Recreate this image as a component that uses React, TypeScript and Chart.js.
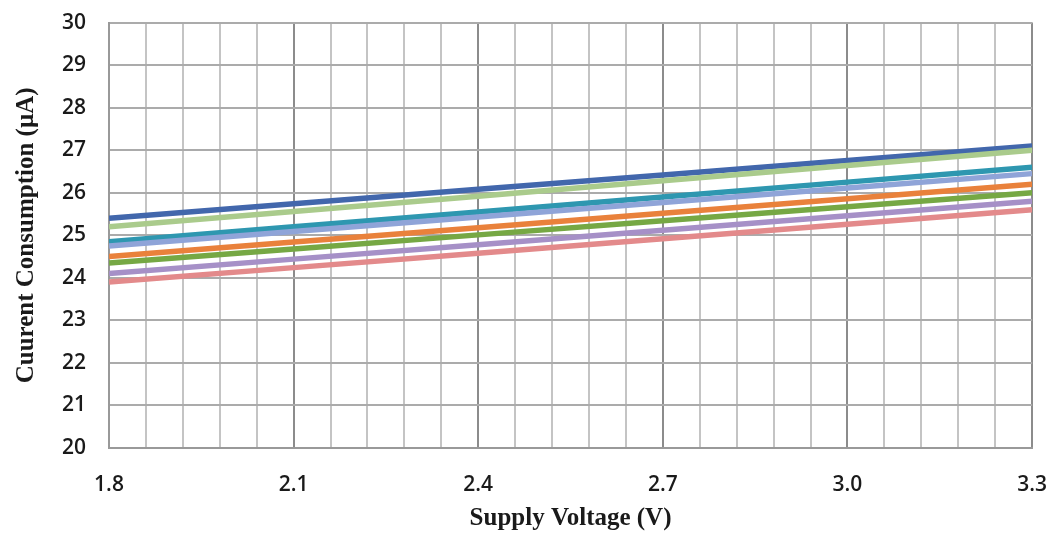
import React, { useEffect, useRef } from "react";
import { Chart, registerables } from "chart.js";

Chart.register(...registerables);

const voltages = [1.8, 2.1, 2.4, 2.7, 3.0, 3.3];
const seriesBlue = [25.4, 25.74, 26.08, 26.42, 26.76, 27.1];
const seriesLightGreen = [25.2, 25.56, 25.92, 26.28, 26.64, 27.0];
const seriesTeal = [24.85, 25.2, 25.55, 25.9, 26.25, 26.6];
const seriesPeriwinkle = [24.75, 25.09, 25.43, 25.77, 26.11, 26.45];
const seriesOrange = [24.5, 24.84, 25.18, 25.52, 25.86, 26.2];
const seriesGreen = [24.35, 24.68, 25.01, 25.34, 25.67, 26.0];
const seriesPurple = [24.1, 24.44, 24.78, 25.12, 25.46, 25.8];
const seriesPink = [23.9, 24.24, 24.58, 24.92, 25.26, 25.6];
const xTickLabels = ["1.8", "2.1", "2.4", "2.7", "3.0", "3.3"];
const yTicks = [20, 21, 22, 23, 24, 25, 26, 27, 28, 29, 30];

const seriesList = [
  { values: seriesPink, color: "#E38A8B" },
  { values: seriesPurple, color: "#A690C7" },
  { values: seriesGreen, color: "#76A844" },
  { values: seriesOrange, color: "#E9813B" },
  { values: seriesPeriwinkle, color: "#8FA4D8" },
  { values: seriesTeal, color: "#2E97B0" },
  { values: seriesLightGreen, color: "#AACB8C" },
  { values: seriesBlue, color: "#4267AC" },
];

const CW = 1071;
const CH = 547;

export default function App() {
  const ref = useRef<HTMLCanvasElement>(null);
  useEffect(() => {
    if (!ref.current) return;
    const minorStep = 0.06;
    const nMinor = Math.round((3.3 - 1.8) / minorStep);
    const chart = new Chart(ref.current, {
      type: "line",
      data: {
        datasets: seriesList.map((s, i) => ({
          label: "s" + i,
          data: voltages.map((v, k) => ({ x: v, y: s.values[k] })),
          borderColor: s.color,
          backgroundColor: s.color,
          borderWidth: 5.5,
          pointRadius: 0,
          tension: 0,
        })),
      },
      options: {
        animation: false,
        responsive: false,
        maintainAspectRatio: false,
        layout: { padding: { top: 0, right: 0, left: 0, bottom: 0 } },
        plugins: { legend: { display: false }, tooltip: { enabled: false } },
        scales: {
          x: {
            type: "linear",
            min: 1.8,
            max: 3.3,
            afterBuildTicks: (scale: any) => {
              const t = [];
              for (let i = 0; i <= nMinor; i++) t.push({ value: 1.8 + i * minorStep });
              scale.ticks = t;
            },
            afterFit: (scale: any) => {
              scale.height = 86;
            },
            border: { color: "#999999", width: 2 },
            grid: {
              drawTicks: false,
              lineWidth: 2,
              color: (ctx: any) => (ctx.index % 5 === 0 ? "#8c8c8c" : "#c4c4c4"),
            },
            ticks: {
              padding: 24,
              autoSkip: false,
              maxRotation: 0,
              color: "#1a1a1a",
              font: { family: "Open Sans", size: 21, weight: 600 },
              callback: (_v: any, i: number) => (i % 5 === 0 ? xTickLabels[i / 5] : ""),
            },
            title: {
              display: true,
              text: "Supply Voltage (V)",
              color: "#1a1a1a",
              font: { family: "Liberation Serif", size: 25, weight: "bold" },
              padding: { top: 0, bottom: 0 },
            },
          },
          y: {
            type: "linear",
            min: 20,
            max: 30,
            afterBuildTicks: (scale: any) => {
              scale.ticks = yTicks.map((v) => ({ value: v }));
            },
            afterFit: (scale: any) => {
              scale.width = 109;
            },
            border: { color: "#999999", width: 2 },
            grid: { drawTicks: false, lineWidth: 2, color: "#ababab" },
            ticks: {
              padding: 23,
              color: "#1a1a1a",
              font: { family: "Open Sans", size: 21, weight: 600 },
            },
            title: {
              display: true,
              text: "Cuurent Consumption (µA)",
              color: "#1a1a1a",
              font: { family: "Liberation Serif", size: 25, weight: "bold" },
              padding: { top: 12, bottom: 0 },
            },
          },
        },
      },
    });
    return () => chart.destroy();
  }, []);
  return (
    <div style={{ position: "fixed", left: 0, top: 0, width: 1051, height: 534, background: "#fff", overflow: "hidden" }}>
      <canvas
        ref={ref}
        width={CW}
        height={CH}
        style={{ position: "absolute", left: 0, top: -13, width: CW, height: CH }}
      />
    </div>
  );
}
